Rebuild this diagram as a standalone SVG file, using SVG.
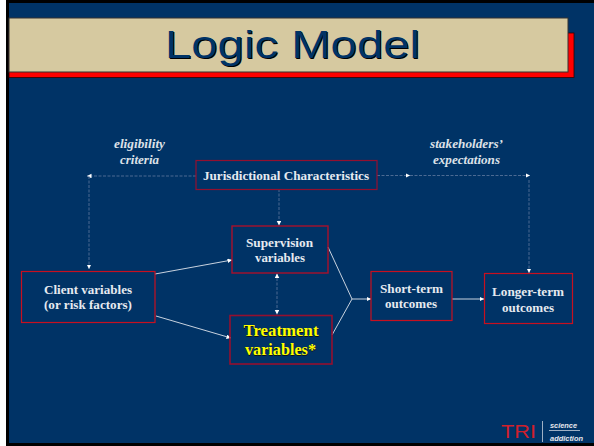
<svg xmlns="http://www.w3.org/2000/svg" width="594" height="446" viewBox="0 0 594 446">
<style>
.b{fill:none;stroke:#94102f;stroke-width:1.2}
.r{stroke:#c8101f}
.t{font-family:"Liberation Serif",serif;font-weight:bold;font-size:12.500px;fill:#e6eaf0;text-anchor:middle}
.i{font-family:"Liberation Serif",serif;font-weight:bold;font-style:italic;font-size:12.500px;fill:#dde1e8;text-anchor:middle}
.y{font-family:"Liberation Serif",serif;font-weight:bold;font-size:16.500px;fill:#ffff00;text-anchor:middle}
.s{fill:#111}
.c{fill:none;stroke:#dfe4ec;stroke-width:.9}
.d{fill:none;stroke:#5f7a9e;stroke-width:.8;stroke-dasharray:3 1.500}
</style>
<defs>
<marker id="a" markerWidth="5" markerHeight="5" refX="4.500" refY="2.250" orient="auto-start-reverse" markerUnits="userSpaceOnUse"><path d="M0 0L4.500 2.250L0 4.500Z" fill="#fff"/></marker>
</defs>
<rect width="594" height="446" fill="#fff"/>
<rect x="6" width="588" height="446" fill="#000"/>
<rect x="9" y="3" width="585" height="440" fill="#003366"/>
<g id="title">
<rect x="9" y="33" width="565" height="44.500" fill="#f00" stroke="#300" stroke-width=".8"/>
<rect x="9" y="18" width="559" height="54" fill="#d6c9a0" stroke="#333" stroke-width="1"/>
<text x="166" y="59" font-family="Liberation Sans,sans-serif" font-size="39" fill="#000" textLength="255" lengthAdjust="spacingAndGlyphs">Logic Model</text>
<text x="165" y="58" font-family="Liberation Sans,sans-serif" font-size="39" fill="#003366" textLength="255" lengthAdjust="spacingAndGlyphs">Logic Model</text>
</g>
<g id="connectors">
<path class="d" d="M196 176H87" marker-end="url(#a)"/>
<path class="d" d="M89 176V269" marker-end="url(#a)"/>
<path class="d" d="M377 175.500H410" marker-end="url(#a)"/>
<path class="d" d="M410 175.500H530" marker-end="url(#a)"/>
<path class="d" d="M529 180V273" marker-end="url(#a)"/>
<path class="d" d="M279 189V225.500" marker-end="url(#a)"/>
<path class="d" d="M277 273.500V314.500" marker-start="url(#a)" marker-end="url(#a)"/>
<path class="c" d="M155 274L232 260" marker-end="url(#a)"/>
<path class="c" d="M156 316L231 338" marker-end="url(#a)"/>
<path class="c" d="M328 247L352 299L332 335"/>
<path class="c" d="M352 299H371" marker-end="url(#a)"/>
<path class="c" d="M452 299H484" marker-end="url(#a)"/>
</g>
<g id="label-eligibility"><text class="i" x="139.500" y="148" textLength="51" lengthAdjust="spacingAndGlyphs">eligibility</text><text class="i" x="139.500" y="164" textLength="39" lengthAdjust="spacingAndGlyphs">criteria</text></g>
<g id="label-stakeholders"><text class="i" x="466.500" y="148" textLength="73" lengthAdjust="spacingAndGlyphs">stakeholders’</text><text class="i" x="466.500" y="164" textLength="67" lengthAdjust="spacingAndGlyphs">expectations</text></g>
<g id="jurisdictional"><rect class="b" x="196" y="160.500" width="181" height="29"/><text class="t" x="286" y="180" textLength="166" lengthAdjust="spacingAndGlyphs">Jurisdictional Characteristics</text></g>
<g id="supervision"><rect class="b" style="stroke:#a8102c;stroke-width:1.400" x="232" y="226" width="96" height="47"/><text class="t" x="279.500" y="247" textLength="67" lengthAdjust="spacingAndGlyphs">Supervision</text><text class="t" x="280" y="262" textLength="50" lengthAdjust="spacingAndGlyphs">variables</text></g>
<g id="client"><rect class="b r" x="21.500" y="271.500" width="133.500" height="51"/><text class="t" x="88" y="294" textLength="88" lengthAdjust="spacingAndGlyphs">Client variables</text><text class="t" x="88" y="309" textLength="88" lengthAdjust="spacingAndGlyphs">(or risk factors)</text></g>
<g id="treatment"><rect class="b" style="stroke-width:1.600" x="230" y="315.500" width="102" height="48.500"/><text class="y" style="fill:#111" x="281.500" y="336.500" textLength="75" lengthAdjust="spacingAndGlyphs">Treatment</text><text class="y" x="281" y="336" textLength="75" lengthAdjust="spacingAndGlyphs">Treatment</text><text class="y" style="fill:#111" x="281" y="355.500" textLength="71" lengthAdjust="spacingAndGlyphs">variables*</text><text class="y" x="280.500" y="355" textLength="71" lengthAdjust="spacingAndGlyphs">variables*</text></g>
<g id="short-term"><rect class="b r" x="371" y="271.500" width="81" height="49"/><text class="t" x="411.500" y="293" textLength="63" lengthAdjust="spacingAndGlyphs">Short-term</text><text class="t" x="411" y="308" textLength="52" lengthAdjust="spacingAndGlyphs">outcomes</text></g>
<g id="longer-term"><rect class="b r" x="484.500" y="273.500" width="88" height="50"/><text class="t" x="528" y="296" textLength="72" lengthAdjust="spacingAndGlyphs">Longer-term</text><text class="t" x="528" y="312" textLength="52" lengthAdjust="spacingAndGlyphs">outcomes</text></g>
<g id="logo">
<text x="501" y="438" font-family="Liberation Sans,sans-serif" font-size="18" fill="#d0202c" textLength="35" lengthAdjust="spacingAndGlyphs">TRI</text>
<path d="M542.500 421V442" stroke="#c8d0dc" stroke-width=".8"/>
<path d="M549 430.500H580" stroke="#c8d0dc" stroke-width=".8"/>
<text x="550" y="428" font-family="Liberation Sans,sans-serif" font-weight="bold" font-style="italic" font-size="7.500" fill="#e6e8ee" textLength="27" lengthAdjust="spacingAndGlyphs">science</text>
<text x="550" y="441" font-family="Liberation Sans,sans-serif" font-weight="bold" font-style="italic" font-size="7.500" fill="#e6e8ee" textLength="33" lengthAdjust="spacingAndGlyphs">addiction</text>
</g>
</svg>
